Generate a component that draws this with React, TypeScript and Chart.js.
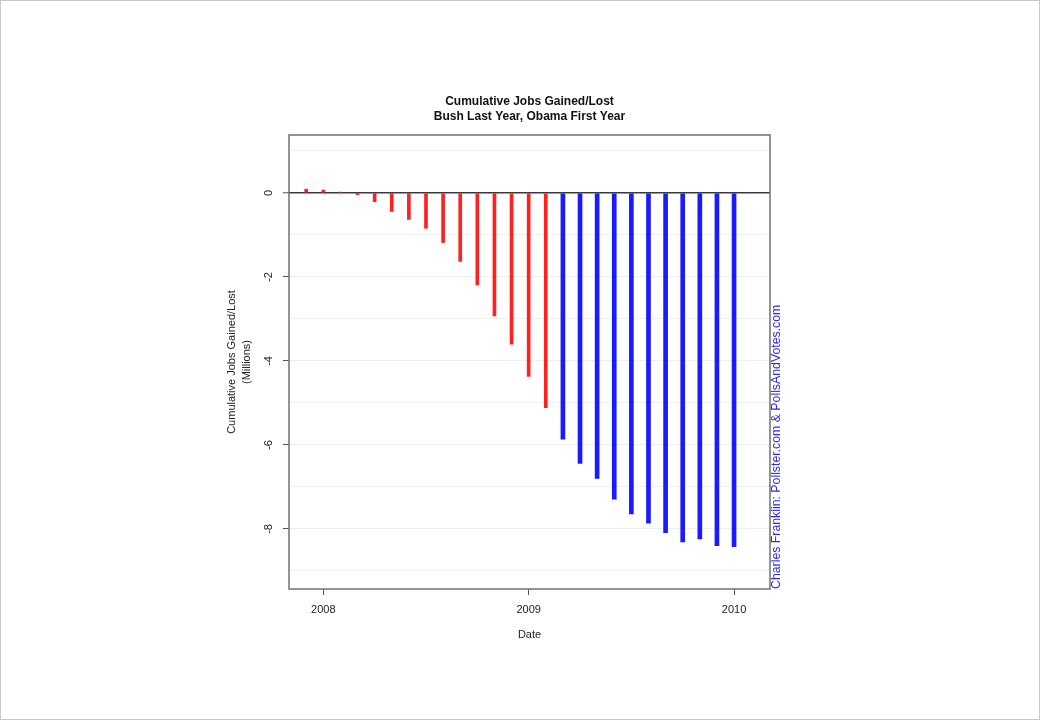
import React, { useEffect, useRef } from "react";
import { Chart, registerables } from "chart.js";

Chart.register(...registerables);

const FONT = "'Liberation Sans', Arial, Helvetica, sans-serif";

const titleLines = ["Cumulative Jobs Gained/Lost", "Bush Last Year, Obama First Year"];
const yTitleLines = ["Cumulative Jobs Gained/Lost", "(Millions)"];
const xTitle = "Date";
const credit = "Charles Franklin: Pollster.com & PollsAndVotes.com";

const bushMonths = [
  "2007-12", "2008-01", "2008-02", "2008-03", "2008-04", "2008-05", "2008-06", "2008-07",
  "2008-08", "2008-09", "2008-10", "2008-11", "2008-12", "2009-01", "2009-02",
];
const bushValues = [0.09, 0.07, 0.02, -0.04, -0.21, -0.44, -0.63, -0.84, -1.18, -1.63, -2.19, -2.93, -3.6, -4.37, -5.11];

const obamaMonths = [
  "2009-03", "2009-04", "2009-05", "2009-06", "2009-07", "2009-08", "2009-09", "2009-10",
  "2009-11", "2009-12", "2010-01",
];
const obamaValues = [-5.86, -6.44, -6.8, -7.29, -7.64, -7.86, -8.09, -8.31, -8.24, -8.4, -8.42];

const xTickYears = [2008, 2009, 2010];
const yGridValues = [-9, -8, -7, -6, -5, -4, -3, -2, -1, 0, 1];
const yTickLabels = [0, -2, -4, -6, -8];

const X_MIN = 2007.833;
const X_MAX = 2010.175;
const Y_MIN = -9.43;
const Y_MAX = 1.38;

function monthToX(m: string): number {
  const [y, mo] = m.split("-").map(Number);
  return y + (mo - 1) / 12;
}

const extrasPlugin = {
  id: "extras",
  afterDraw(chart: any) {
    const ctx = chart.ctx as CanvasRenderingContext2D;
    const { left, right, top, bottom } = chart.chartArea;
    const yScale = chart.scales.y;
    const cx = (left + right) / 2;
    const cy = (top + bottom) / 2;
    ctx.save();

    // plot box
    ctx.strokeStyle = "#707070";
    ctx.lineWidth = 1.5;
    ctx.strokeRect(left, top, right - left, bottom - top);

    // y tick labels (rotated, parallel to axis)
    ctx.fillStyle = "#222";
    ctx.font = `11px ${FONT}`;
    ctx.textAlign = "center";
    ctx.textBaseline = "middle";
    yTickLabels.forEach((v) => {
      const py = yScale.getPixelForValue(v);
      ctx.save();
      ctx.translate(269, py);
      ctx.rotate(-Math.PI / 2);
      ctx.fillText(String(v), 0, 0);
      ctx.restore();
    });

    // y axis title
    ctx.font = `11px ${FONT}`;
    yTitleLines.forEach((t, i) => {
      ctx.save();
      ctx.translate(232 + i * 15, cy);
      ctx.rotate(-Math.PI / 2);
      ctx.fillText(t, 0, 0);
      ctx.restore();
    });

    // title
    ctx.fillStyle = "#111";
    ctx.font = `bold 12px ${FONT}`;
    ctx.fillText(titleLines[0], cx, 102);
    ctx.fillText(titleLines[1], cx, 117);

    // x title
    ctx.fillStyle = "#222";
    ctx.font = `11px ${FONT}`;
    ctx.fillText(xTitle, cx, 635);

    // credit
    ctx.fillStyle = "rgb(40,40,255)";
    ctx.font = `12.3px ${FONT}`;
    ctx.textAlign = "left";
    ctx.save();
    ctx.translate(777, bottom);
    ctx.rotate(-Math.PI / 2);
    ctx.fillText(credit, 0, 0);
    ctx.restore();

    // outer frame
    ctx.strokeStyle = "#c8c8c8";
    ctx.lineWidth = 1;
    ctx.strokeRect(0.5, 0.5, chart.width - 1, chart.height - 1);
    ctx.restore();
  },
};

export default function App() {
  const canvasRef = useRef<HTMLCanvasElement | null>(null);

  useEffect(() => {
    if (!canvasRef.current) return;
    const chart = new Chart(canvasRef.current, {
      type: "bar",
      data: {
        datasets: [
          {
            label: "Bush",
            data: bushMonths.map((m, i) => ({ x: monthToX(m), y: bushValues[i] })),
            backgroundColor: "#ff2020",
            borderWidth: 0,
            barThickness: 3,
            grouped: false,
          } as any,
          {
            label: "Obama",
            data: obamaMonths.map((m, i) => ({ x: monthToX(m), y: obamaValues[i] })),
            backgroundColor: "#1a1aff",
            borderWidth: 0,
            barThickness: 4,
            grouped: false,
          } as any,
        ],
      },
      options: {
        responsive: false,
        animation: false,
        devicePixelRatio: 1,
        layout: { padding: { left: 0, top: 135, right: 270, bottom: 0 } },
        plugins: {
          legend: { display: false },
          title: { display: false },
          tooltip: { enabled: false },
        },
        scales: {
          x: {
            type: "linear",
            min: X_MIN,
            max: X_MAX,
            offset: false,
            afterBuildTicks: (scale: any) => {
              scale.ticks = xTickYears.map((v) => ({ value: v }));
            },
            afterFit: (scale: any) => {
              scale.height = 720 - 589;
            },
            grid: {
              offset: false,
              drawOnChartArea: false,
              drawTicks: true,
              tickLength: 6,
              tickColor: "#555",
              tickWidth: 1,
            },
            border: { display: false },
            ticks: {
              autoSkip: false,
              maxRotation: 0,
              minRotation: 0,
              padding: 8,
              color: "#222",
              font: { family: FONT, size: 11 },
              callback: (v: any) => String(v),
            },
          },
          y: {
            type: "linear",
            min: Y_MIN,
            max: Y_MAX,
            afterBuildTicks: (scale: any) => {
              scale.ticks = yGridValues.map((v) => ({ value: v }));
            },
            afterFit: (scale: any) => {
              scale.width = 289;
            },
            grid: {
              offset: false,
              drawOnChartArea: true,
              drawTicks: true,
              tickLength: 6,
              color: (c: any) => (c.tick && c.tick.value === 0 ? "#3a3a3a" : "#efefef"),
              lineWidth: (c: any) => (c.tick && c.tick.value === 0 ? 1.5 : 1),
              tickColor: (c: any) =>
                c.tick && c.tick.value % 2 === 0 ? "#555" : "rgba(0,0,0,0)",
              tickWidth: 1,
            },
            border: { display: false },
            ticks: { display: false },
          },
        },
      },
      plugins: [extrasPlugin],
    });
    return () => chart.destroy();
  }, []);

  return (
    <div style={{ position: "absolute", left: 0, top: 0, width: 1040, height: 720, background: "#fff" }}>
      <canvas ref={canvasRef} width={1040} height={720} style={{ width: 1040, height: 720, display: "block" }} />
    </div>
  );
}
